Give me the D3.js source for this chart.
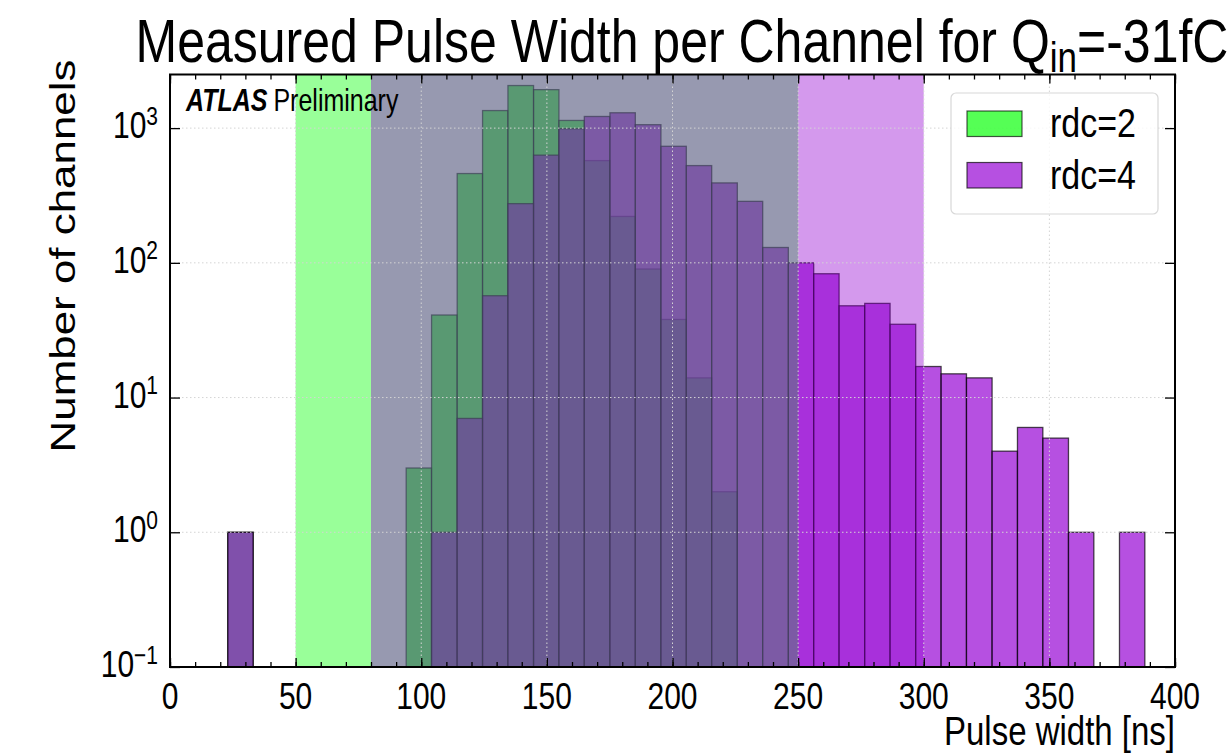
<!DOCTYPE html>
<html>
<head>
<meta charset="utf-8">
<script src="https://cdn.jsdelivr.net/npm/d3@7"></script>
<style>
  body { margin: 0; background: #fff; }
  text { font-family: "Liberation Sans", Arial, Helvetica, sans-serif; fill: #000; }
</style>
</head>
<body>
<div id="chart"></div>
<script>
// histogram bin edges (ns), shared by both series
var binEdges = [23.0, 33.1, 43.3, 53.4, 63.6, 73.7, 83.8, 94.0, 104.1, 114.3,
    124.4, 134.5, 144.7, 154.8, 164.9, 175.1, 185.2, 195.4, 205.5, 215.6,
    225.8, 235.9, 246.1, 256.2, 266.3, 276.5, 286.6, 296.8, 306.9, 317.0,
    327.2, 337.3, 347.4, 357.6, 367.7, 377.9, 388.0];

// number of channels per bin
var rdc2 = [1, 0, 0, 0, 0, 0, 0, 3, 41, 460, 1350, 2070, 1930, 1140, 574, 221, 90, 38, 14, 2,
    0, 0, 0, 0, 0, 0, 0, 0, 0, 0, 0, 0, 0, 0, 0, 0];
var rdc4 = [1, 0, 0, 0, 0, 0, 0, 0, 1, 7, 57, 275, 630, 990, 1220, 1300, 1060, 733, 527, 392,
    286, 130, 100, 83, 48, 50, 35, 17, 15, 14, 4, 6, 5, 1, 0, 1];

// shaded pulse width windows
var spans = [
    { name: "rdc=2", from: 50, to: 250 },
    { name: "rdc=4", from: 80, to: 300 }
];

var seriesNames = ["rdc=2", "rdc=4"];
var xTicks = [0, 50, 100, 150, 200, 250, 300, 350, 400];
var yTicks = [0.1, 1, 10, 100, 1000];
var yTickExp = ["\u22121", "0", "1", "2", "3"];

var W = 1229, H = 755;
var pLeft = 170, pRight = 1175, pTop = 74.5, pBottom = 667;
var stretch = 1.22;   // glyphs in the source look taller than wide

var colors = { "rdc=2": "#00ff00", "rdc=4": "#9400d3" };
var histAlpha = { "rdc=2": 0.667, "rdc=4": 0.686 };

var svg = d3.select("#chart").append("svg")
    .attr("width", W)
    .attr("height", H);

svg.append("rect").attr("width", W).attr("height", H).attr("fill", "#fff");

var x = d3.scaleLinear().domain([0, 400]).range([pLeft, pRight]);
var y = d3.scaleLog().domain([0.1, 2500]).range([pBottom, pTop]);

// text placed at a baseline point, stretched vertically
function tallText(parent, tx, ty, anchor, size) {
    return parent.append("g")
        .attr("transform", "translate(" + tx + "," + ty + ") scale(1," + stretch + ")")
        .append("text")
        .attr("text-anchor", anchor)
        .attr("font-size", size);
}

var plot = svg.append("g");

function drawHist(name, counts) {
    var bins = counts.map(function (c, i) {
        return { x0: binEdges[i], x1: binEdges[i + 1], n: c };
    }).filter(function (d) { return d.n > 0; });

    plot.append("g").selectAll("rect")
        .data(bins)
        .enter().append("rect")
        .attr("x", function (d) { return x(d.x0); })
        .attr("y", function (d) { return y(d.n); })
        .attr("width", function (d) { return x(d.x1) - x(d.x0); })
        .attr("height", function (d) { return pBottom - y(d.n); })
        .attr("fill", colors[name])
        .attr("fill-opacity", histAlpha[name])
        .attr("stroke", "#000")
        .attr("stroke-opacity", histAlpha[name])
        .attr("stroke-width", 1.3);
}

drawHist("rdc=2", rdc2);
drawHist("rdc=4", rdc4);

// windows are drawn over the bars
plot.append("g").selectAll("rect")
    .data(spans)
    .enter().append("rect")
    .attr("x", function (d) { return x(d.from); })
    .attr("y", pTop)
    .attr("width", function (d) { return x(d.to) - x(d.from); })
    .attr("height", pBottom - pTop)
    .attr("fill", function (d) { return colors[d.name]; })
    .attr("fill-opacity", 0.4);

// grid
var grid = svg.append("g")
    .attr("stroke", "#d4d4d4")
    .attr("stroke-width", 1)
    .attr("stroke-dasharray", "1.5,2.5");

grid.selectAll(".gx")
    .data(xTicks.slice(1, -1))
    .enter().append("line")
    .attr("x1", function (d) { return x(d); })
    .attr("x2", function (d) { return x(d); })
    .attr("y1", pTop).attr("y2", pBottom);

grid.selectAll(".gy")
    .data(yTicks.slice(1))
    .enter().append("line")
    .attr("y1", function (d) { return y(d); })
    .attr("y2", function (d) { return y(d); })
    .attr("x1", pLeft).attr("x2", pRight);

// axes, ticks pointing inwards
function styleAxis(g) {
    g.select(".domain").remove();
    g.selectAll(".tick line").attr("stroke", "#000").attr("stroke-width", 1.3);
}

var minorX = d3.range(0, 401, 10);

svg.append("g")
    .attr("transform", "translate(0," + pBottom + ")")
    .call(d3.axisBottom(x).tickValues(minorX).tickSize(-5).tickFormat(""))
    .call(styleAxis);

svg.append("g")
    .attr("transform", "translate(0," + pTop + ")")
    .call(d3.axisTop(x).tickValues(minorX).tickSize(-5).tickFormat(""))
    .call(styleAxis);

svg.append("g")
    .attr("transform", "translate(0," + pBottom + ")")
    .call(d3.axisBottom(x).tickValues(xTicks).tickSize(-9).tickFormat(""))
    .call(styleAxis);

svg.append("g")
    .attr("transform", "translate(0," + pTop + ")")
    .call(d3.axisTop(x).tickValues(xTicks).tickSize(-9).tickFormat(""))
    .call(styleAxis);

svg.append("g")
    .attr("transform", "translate(" + pLeft + ",0)")
    .call(d3.axisLeft(y).tickValues(yTicks).tickSize(-10).tickFormat(""))
    .call(styleAxis);

svg.append("g")
    .attr("transform", "translate(" + pRight + ",0)")
    .call(d3.axisRight(y).tickValues(yTicks).tickSize(-10).tickFormat(""))
    .call(styleAxis);

// x tick labels
var xlab = svg.append("g");
xTicks.forEach(function (d) {
    tallText(xlab, x(d), 709, "middle", 30).text(d);
});

// y tick labels with exponents
var ylab = svg.append("g");
yTicks.forEach(function (d, i) {
    var t = tallText(ylab, pLeft - 12, y(d) + 10, "end", 30);
    t.append("tspan").text("10");
    t.append("tspan").attr("dy", -11).attr("font-size", 21).text(yTickExp[i]);
});

// frame
svg.append("rect")
    .attr("x", pLeft).attr("y", pTop)
    .attr("width", pRight - pLeft).attr("height", pBottom - pTop)
    .attr("fill", "none")
    .attr("stroke", "#000")
    .attr("stroke-width", 2);

// title
var title = tallText(svg, 682, 62, "middle", 50);
title.append("tspan").text("Measured Pulse Width per Channel for Q");
title.append("tspan").attr("dy", 8).attr("font-size", 35).text("in");
title.append("tspan").attr("dy", -8).text("=-31fC");

// axis labels
tallText(svg, pRight, 745, "end", 33).text("Pulse width [ns]");

svg.append("g")
    .attr("transform", "translate(75,256) rotate(-90) scale(" + stretch + ",1)")
    .append("text")
    .attr("text-anchor", "middle")
    .attr("font-size", 36)
    .text("Number of channels");

// ATLAS label
var atlas = tallText(svg, 186, 111, "start", 25);
atlas.append("tspan").attr("font-weight", "bold").attr("font-style", "italic").text("ATLAS");
atlas.append("tspan").attr("dx", 6).text("Preliminary");

// legend
var legend = svg.append("g").attr("transform", "translate(951,93)");
legend.append("rect")
    .attr("width", 207).attr("height", 121)
    .attr("rx", 5)
    .attr("fill", "#fff").attr("fill-opacity", 0.8)
    .attr("stroke", "#d8d8d8").attr("stroke-width", 1.2);

var item = legend.selectAll(".item")
    .data(seriesNames)
    .enter().append("g")
    .attr("transform", function (d, i) { return "translate(16," + (18 + i * 51.5) + ")"; });

item.append("rect")
    .attr("width", 55).attr("height", 25.5)
    .attr("fill", function (d) { return colors[d]; })
    .attr("fill-opacity", function (d) { return histAlpha[d]; })
    .attr("stroke", "#000")
    .attr("stroke-opacity", function (d) { return histAlpha[d]; })
    .attr("stroke-width", 1.2);

item.each(function (d) {
    tallText(d3.select(this), 83, 26, "start", 34).text(d);
});
</script>
</body>
</html>
